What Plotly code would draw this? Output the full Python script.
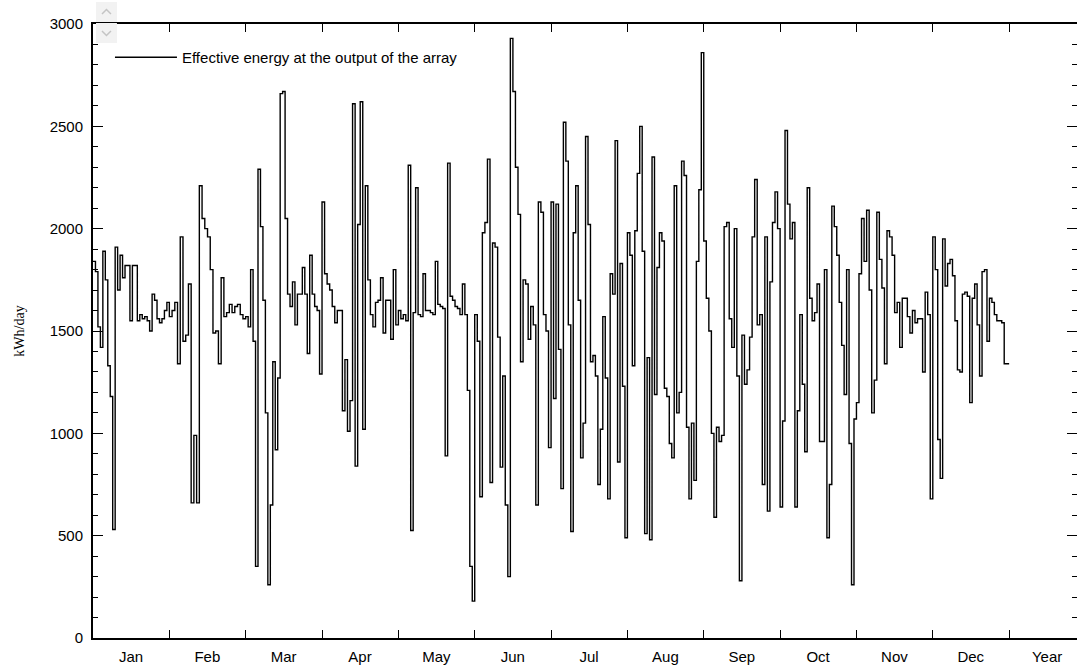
import plotly.graph_objects as go

months = ["Jan", "Feb", "Mar", "Apr", "May", "Jun", "Jul", "Aug", "Sep", "Oct", "Nov", "Dec"]
x_labels = months + ["Year"]

jan = [1840, 1790, 1520, 1420, 1890, 1750, 1330, 1180, 530, 1910, 1700, 1870, 1760, 1820, 1820, 1550,
       1820, 1820, 1550, 1580, 1560, 1570, 1550, 1500, 1680, 1650, 1560, 1540, 1560, 1600, 1640]
feb = [1570, 1600, 1640, 1340, 1960, 1450, 1480, 1730, 660, 990, 660, 2210, 2050, 2000, 1960, 1800,
       1490, 1500, 1340, 1760, 1570, 1590, 1630, 1590, 1620, 1630, 1580, 1560]
mar = [1570, 1520, 1800, 1450, 350, 2290, 2010, 1650, 1100, 260, 650, 1350, 920, 1270, 2660, 2670,
       2050, 1680, 1620, 1740, 1530, 1680, 1680, 1810, 1680, 1390, 1870, 1680, 1620, 1600, 1290]
apr = [2130, 1780, 1730, 1700, 1620, 1540, 1600, 1600, 1110, 1360, 1010, 1160, 2610, 840, 2020, 2620,
       1020, 2210, 1750, 1580, 1520, 1640, 1650, 1760, 1490, 1650, 1650, 1460, 1800, 1530]
may = [1600, 1560, 1580, 1550, 2310, 525, 1590, 2200, 1580, 1570, 1780, 1600, 1600, 1590, 1580, 1840,
       1630, 1620, 1610, 890, 2320, 1670, 1650, 1620, 1610, 1580, 1730, 1580, 1210, 350, 180]
jun = [1580, 1450, 690, 1980, 2030, 2340, 760, 1930, 1910, 1470, 835, 1280, 650, 300, 2930, 2670,
       2300, 2070, 1350, 1750, 1730, 1460, 1620, 1530, 650, 2130, 2080, 1580, 1500, 930]
jul = [2130, 1170, 2120, 1410, 730, 2520, 2330, 1530, 520, 1980, 2210, 1650, 880, 1050, 2450, 2020,
       1350, 1380, 1280, 750, 1020, 1570, 1270, 680, 1780, 1680, 2430, 860, 1830, 1230, 490]
aug = [1980, 1870, 1330, 1990, 2270, 2500, 1890, 510, 1370, 480, 2350, 1190, 1810, 1980, 1940, 1220,
       1180, 950, 880, 2210, 1100, 1200, 2330, 2260, 1030, 680, 1050, 770, 1840, 2190, 2860]
sep = [1940, 1660, 1500, 1000, 590, 1030, 960, 990, 2010, 2030, 1560, 1420, 2000, 1280, 280, 1480,
       1240, 1310, 1470, 1960, 2240, 1530, 1580, 750, 1960, 620, 1740, 2030, 2180, 2000]
oct_ = [640, 1060, 2480, 2120, 1950, 2030, 640, 1110, 1580, 1240, 910, 2200, 1660, 1550, 1590, 1730,
        960, 960, 1800, 490, 750, 2110, 2010, 1870, 1640, 1430, 1190, 1800, 950, 260, 1070]
nov = [1150, 1780, 2050, 1840, 2090, 1700, 1100, 1260, 2080, 1850, 1710, 1340, 1990, 1960, 1870, 1590,
       1640, 1420, 1660, 1660, 1570, 1490, 1600, 1540, 1560, 1560, 1300, 1690, 1580, 680]
dec = [1960, 1800, 970, 780, 1950, 1720, 1830, 1850, 1770, 1550, 1310, 1300, 1680, 1690, 1670, 1150,
       1660, 1730, 1530, 1280, 1790, 1800, 1450, 1660, 1640, 1580, 1550, 1550, 1540, 1340, 1340]

monthly = [jan, feb, mar, apr, may, jun, jul, aug, sep, oct_, nov, dec]

# step positions: each month occupies one equal slot on the axis
xs, ys = [], []
for m, vals in enumerate(monthly):
    n = len(vals)
    for d, v in enumerate(vals):
        xs.append(m + d / n)
        ys.append(v)
xs.append(12)
ys.append(monthly[-1][-1])

fig = go.Figure()
fig.add_trace(go.Scatter(
    x=xs, y=ys, mode="lines", line=dict(color="black", width=1.4, shape="hv"),
    name="Effective energy at the output of the array", showlegend=True,
))

W, H = 1080, 668
L, R, T, B = 93, 1, 24, 30
pw, ph = W - L - R, H - T - B
slot_px = 76.5
x_max = pw / slot_px

def px(xp):
    return (xp - L) / pw

def py(yp):
    return (H - B - yp) / ph

shapes = []
# small scroll widget at top-left
shapes.append(dict(type="rect", xref="paper", yref="paper", x0=px(96), x1=px(117), y0=py(22), y1=py(2),
                   fillcolor="#f2f2f2", line=dict(width=0), layer="above"))
shapes.append(dict(type="rect", xref="paper", yref="paper", x0=px(96), x1=px(117), y0=py(43), y1=py(23),
                   fillcolor="#f2f2f2", line=dict(width=0), layer="above"))
shapes.append(dict(type="path", xref="paper", yref="paper",
                   path=f"M {px(102)} {py(14)} L {px(106.5)} {py(9.5)} L {px(111)} {py(14)}",
                   line=dict(color="#c4c4c4", width=1.5), layer="above"))
shapes.append(dict(type="path", xref="paper", yref="paper",
                   path=f"M {px(102)} {py(31)} L {px(106.5)} {py(35.5)} L {px(111)} {py(31)}",
                   line=dict(color="#c4c4c4", width=1.5), layer="above"))

fig.update_layout(
    width=W, height=H,
    margin=dict(l=L, r=R, t=T, b=B, pad=0),
    paper_bgcolor="white", plot_bgcolor="white",
    font=dict(family="Liberation Sans, Arial, sans-serif", size=15, color="black"),
    showlegend=True,
    legend=dict(x=px(110), y=py(41), xanchor="left", yanchor="top", bgcolor="rgba(0,0,0,0)",
                font=dict(size=15, color="black"), itemwidth=62, borderwidth=0),
    shapes=shapes,
)

fig.update_xaxes(
    range=[0, x_max],
    tickmode="array",
    tickvals=list(range(13)),
    ticktext=x_labels,
    ticklabelshift=round(slot_px / 2),
    ticks="inside", ticklen=8, tickwidth=1, tickcolor="black",
    showgrid=False, zeroline=False,
    showline=True, linecolor="black", linewidth=2, mirror="ticks",
    ticklabelstandoff=4,
)
fig.update_yaxes(
    range=[0, 3000],
    tickmode="linear", tick0=0, dtick=500,
    ticks="inside", ticklen=10, tickwidth=1, tickcolor="black",
    minor=dict(dtick=100, ticks="inside", ticklen=5, tickcolor="black", tickwidth=1, showgrid=False),
    showgrid=False, zeroline=False,
    showline=True, linecolor="black", linewidth=2, mirror="ticks",
    title=dict(text="kWh/day", font=dict(family="Liberation Serif, Times New Roman, serif", size=14),
               standoff=22),
    ticklabelstandoff=5,
)

fig.write_html("out.html", config={"displayModeBar": False},
               post_script="document.body.style.margin='0';document.body.style.overflow='hidden';")
